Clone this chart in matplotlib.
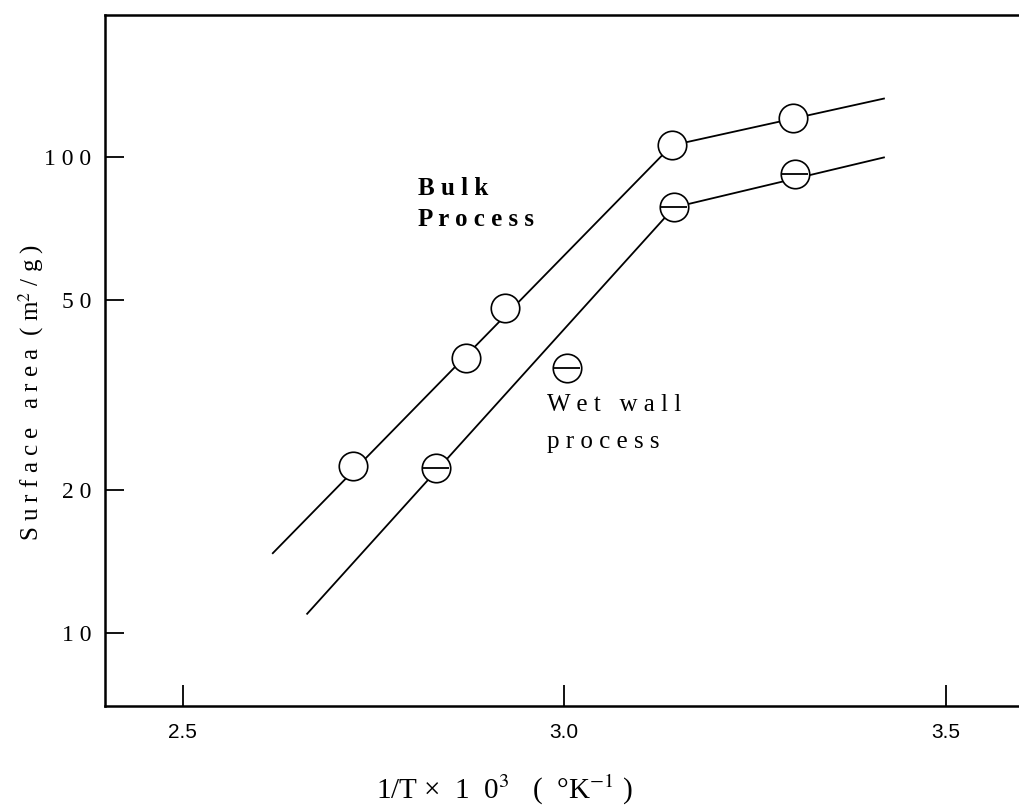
import numpy as np
import matplotlib.pyplot as plt
from matplotlib.ticker import FixedLocator, NullLocator

plt.rcParams['font.family'] = ['Liberation Serif', 'DejaVu Serif']
plt.rcParams['mathtext.fontset'] = 'stix'

# data
bulk_x = [2.723, 2.871, 2.922, 3.141, 3.300]
bulk_y = [22.4, 37.9, 48.1, 106, 121]
bulk_line_x = [2.618, 3.141, 3.419]
bulk_line_y = [14.7, 106, 133]

wet_x = [2.832, 3.144, 3.303]
wet_y = [22.2, 78.5, 92.1]
wet_line_x = [2.663, 3.144, 3.419]
wet_line_y = [10.96, 78.5, 100]

legend_marker = (3.003, 36.1)

y_ticks = [10, 20, 50, 100]
y_labels = ['1 0', '2 0', '5 0', '1 0 0']
x_ticks = [2.5, 3.0, 3.5]
x_labels = ['2.5', '3.0', '3.5']

fig = plt.figure(figsize=(10.19, 8.10), dpi=100)
ax = fig.add_axes([0.103, 0.128, 0.897, 0.853])

ax.plot(bulk_line_x, bulk_line_y, color='black', lw=1.3, zorder=1)
ax.plot(wet_line_x, wet_line_y, color='black', lw=1.3, zorder=1)

ms = 20.5
ax.plot(bulk_x, bulk_y, 'o', ms=ms, mfc='white', mec='black', mew=1.2, ls='none', zorder=3)
ax.plot(wet_x, wet_y, 'o', ms=ms, mfc='white', mec='black', mew=1.2, ls='none', zorder=3)
ax.plot(wet_x, wet_y, '_', ms=ms - 2, mec='black', mew=1.3, ls='none', zorder=4)

ax.plot(*legend_marker, 'o', ms=ms, mfc='white', mec='black', mew=1.2, zorder=3)
ax.plot(*legend_marker, '_', ms=ms - 2, mec='black', mew=1.3, zorder=4)

ax.text(2.808, 91, 'B u l k\nP r o c e s s', fontsize=18, fontweight='bold',
        va='top', ha='left', linespacing=1.45)
ax.text(2.978, 31.8, 'W e t   w a l l\np r o c e s s', fontsize=18,
        va='top', ha='left', linespacing=1.9)

ax.set_yscale('log')
ax.set_xlim(2.398, 3.596)
ax.set_ylim(7.0, 199)

ax.yaxis.set_major_locator(FixedLocator(y_ticks))
ax.yaxis.set_minor_locator(NullLocator())
ax.set_yticklabels(y_labels)
ax.set_xticks(x_ticks)
ax.set_xticklabels(x_labels, fontfamily=['Liberation Sans', 'DejaVu Sans'])

ax.tick_params(axis='y', direction='in', length=14, width=1.3, labelsize=17, pad=10)
ax.tick_params(axis='x', direction='in', length=15, width=1.3, labelsize=15, pad=12)

ax.spines['right'].set_visible(False)
for s in ['left', 'top', 'bottom']:
    ax.spines[s].set_linewidth(1.8)

fig.text(0.031, 0.515, 'S u r f a c e   a r e a  ( m$^2$ / g )', fontsize=18,
         rotation=90, ha='center', va='center')
fig.text(0.495, 0.025, '1/T ×  1  0$^3$   (  °K$^{-1}$ )', fontsize=21,
         ha='center', va='center')

fig.savefig('out.png', dpi=100)
